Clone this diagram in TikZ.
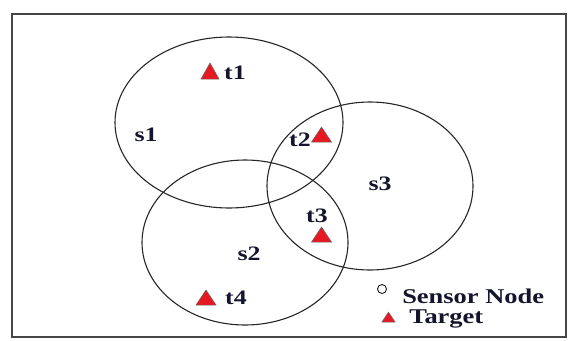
\documentclass[tikz,border=0pt]{standalone}
\usepackage{fontspec}
\setmainfont{Liberation Serif}
\usetikzlibrary{shapes.geometric}
\definecolor{tred}{RGB}{230,25,35}
\definecolor{txt}{RGB}{20,20,45}
\definecolor{framec}{RGB}{70,70,70}
\tikzset{
  lbl/.style={font=\fontsize{20.5}{22}\selectfont\bfseries, text=txt, inner sep=0pt, anchor=base, xscale=1.26},
  lgd/.style={font=\fontsize{21}{22}\selectfont\bfseries, text=txt, inner sep=0pt, anchor=base west, xscale=1.26},
  rng/.style={draw=black!85, line width=1.1pt},
  tgt/.pic={\draw[fill=tred, draw=black!60, line width=0.5pt] (-10,0) -- (10,0) -- (0,-15) -- cycle;}
}
\begin{document}
\begin{tikzpicture}[x=1pt,y=-1pt]
\useasboundingbox (0,0) rectangle (569,340);
\draw[framec, line width=2pt] (12,14) rectangle (566,337);
% sensing ranges
\draw[rng] (229,122.5) ellipse [x radius=114pt, y radius=85.5pt];
\draw[rng] (245,242.5) ellipse [x radius=103pt, y radius=82.5pt];
\draw[rng] (370,186) ellipse [x radius=103pt, y radius=84pt];
% sensor labels
\node[lbl] (s1) at (146,141.5) {s1};
\node[lbl] (s2) at (249,260) {s2};
\node[lbl] (s3) at (380,190) {s3};
% targets
\pic[xscale=0.9, yscale=1.07] at (210,79) {tgt};
\node[lbl] (t1) at (235,79.5) {t1};
\pic at (321.5,142) {tgt};
\node[lbl] (t2) at (300,146.5) {t2};
\pic at (321.5,242) {tgt};
\node[lbl] (t3) at (317,222) {t3};
\pic at (206,305) {tgt};
\node[lbl] (t4) at (236,304) {t4};
% legend
\draw[black, line width=0.8pt] (382,289) circle [radius=4.5pt];
\node[lgd] (ls) at (402,303) {Sensor Node};
\pic[scale=0.66] at (388.5,322) {tgt};
\node[lgd] (lt) at (409,323.5) {Target};
\end{tikzpicture}
\end{document}
